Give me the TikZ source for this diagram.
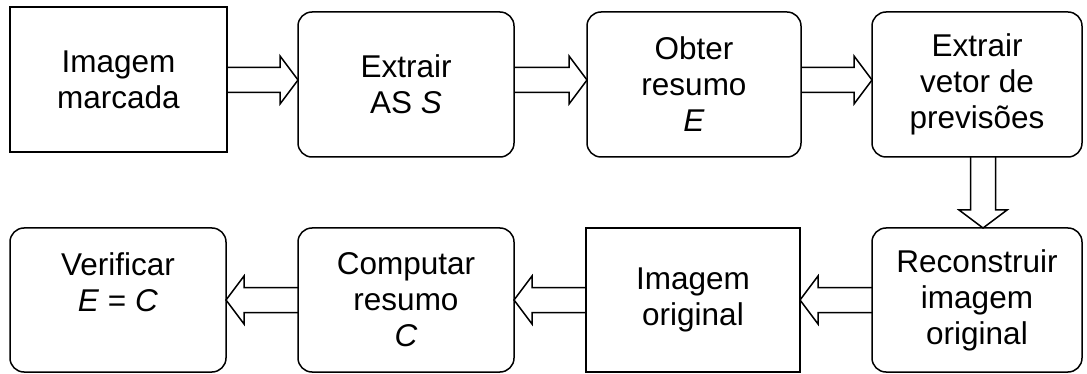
\documentclass[tikz,border=0pt]{standalone}
\usepackage{fontspec}
\setmainfont{Liberation Sans}
\usetikzlibrary{calc}
\tikzset{
  base/.style={draw=black, line width=1.5pt, inner sep=0pt, outer sep=0pt, align=center,
    font=\fontsize{31.5}{36}\selectfont, text=black},
  sqbox/.style={base, minimum width=#1, minimum height=145pt},
  rbox/.style={base, rounded corners=14pt, minimum width=#1, minimum height=145pt},
  barrow/.style={draw=black, line width=1.5pt, line join=miter},
}
\newcommand\blockarrow[2]{%
  \path #1 coordinate (bS) #2 coordinate (bE);
  \coordinate (bH) at ($(bE)!18pt!(bS)$);
  \draw[barrow] ($(bS)!12.5pt!90:(bE)$) -- ($(bH)!12.5pt!90:(bE)$)
    -- ($(bH)!24pt!90:(bE)$) -- (bE) -- ($(bH)!24pt!-90:(bE)$)
    -- ($(bH)!12.5pt!-90:(bE)$) -- ($(bS)!12.5pt!-90:(bE)$);
}
\begin{document}
\begin{tikzpicture}[x=1pt,y=-1pt]
\useasboundingbox (0,0) rectangle (1087,374);
% top row
\node[sqbox=217pt] (b1) at (118.5,79.5) {Imagem\\marcada};
\node[rbox=216pt] (b2) at (406,84.5) {Extrair\\AS \textit{S}};
\node[rbox=214pt] (b3) at (694,84.5) {Obter\\resumo\\\textit{E}};
\node[rbox=210pt] (b4) at (977,84.5) {Extrair\\vetor de\\previsões};
% bottom row
\node[rbox=216pt, minimum height=144pt] (c1) at (118,300) {Verificar\\\textit{E} = \textit{C}\\\mbox{}};
\node[rbox=216pt, minimum height=144pt] (c2) at (406,300) {Computar\\resumo\\\textit{C}};
\node[sqbox=214pt, minimum height=144pt] (c3) at (693,300) {Imagem\\original};
\node[rbox=210pt, minimum height=144pt] (c4) at (977,300) {Reconstruir\\imagem\\original};
% arrow guide coordinates
\coordinate (rowA) at (0,80);
\coordinate (rowB) at (0,300);
\coordinate (colV) at (983,0);
\blockarrow{(b1.east |- rowA)}{(b2.west |- rowA)}
\blockarrow{(b2.east |- rowA)}{(b3.west |- rowA)}
\blockarrow{(b3.east |- rowA)}{(b4.west |- rowA)}
\blockarrow{(colV |- b4.south)}{(colV |- c4.north)}
\blockarrow{(c4.west |- rowB)}{(c3.east |- rowB)}
\blockarrow{(c3.west |- rowB)}{(c2.east |- rowB)}
\blockarrow{(c2.west |- rowB)}{(c1.east |- rowB)}
\end{tikzpicture}
\end{document}
